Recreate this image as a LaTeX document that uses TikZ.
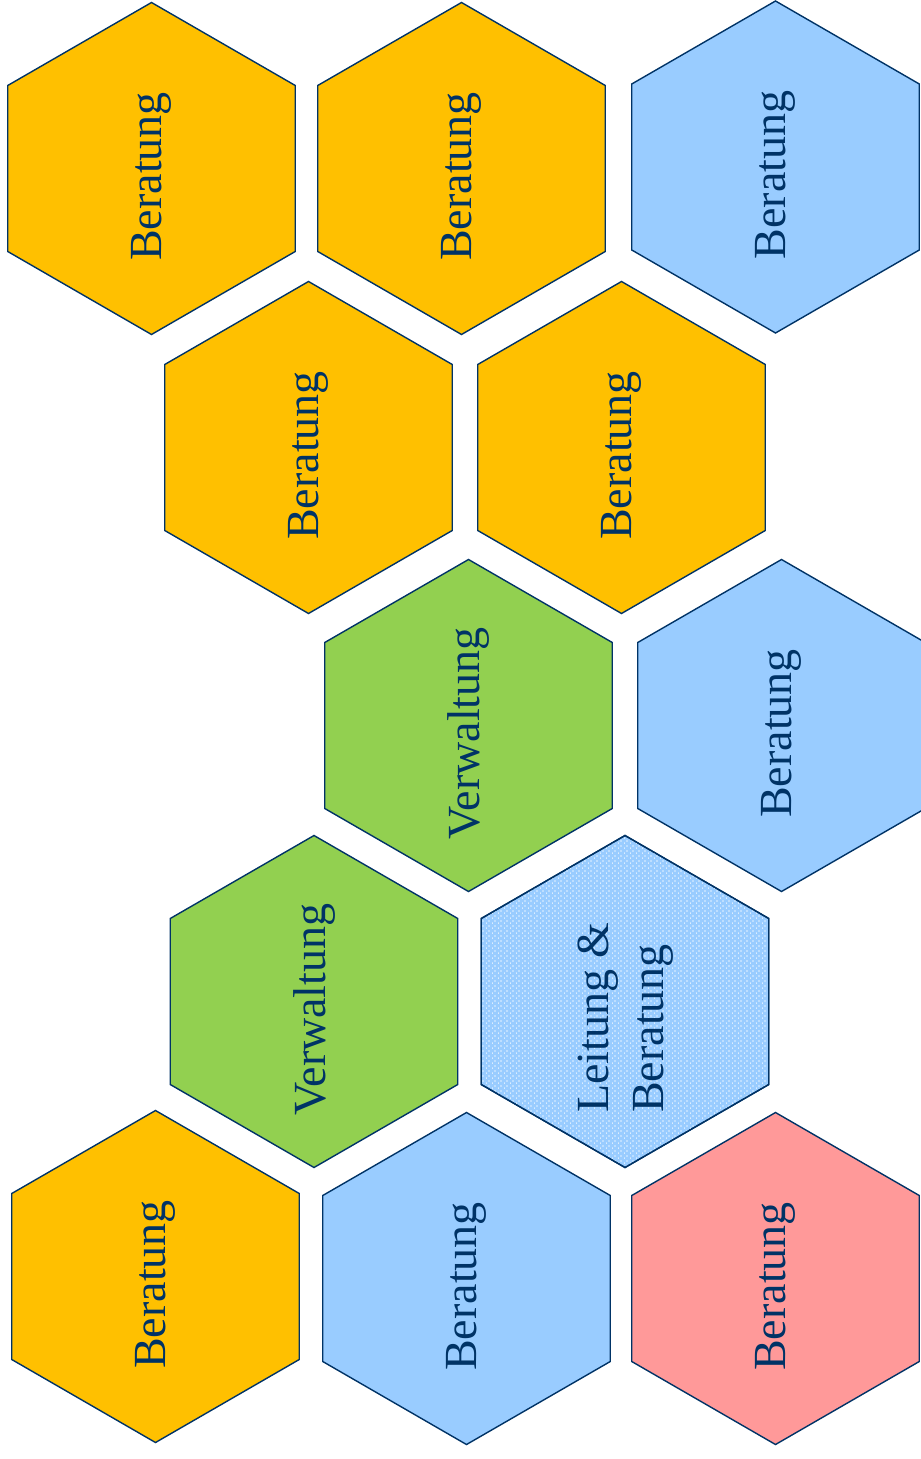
\documentclass[tikz,border=0pt]{standalone}
\usepackage{fontspec}
\setmainfont{Liberation Serif}
\usetikzlibrary{shapes.geometric,patterns}

\definecolor{navy}{RGB}{0,51,102}
\definecolor{gold}{RGB}{255,192,0}
\definecolor{sky}{RGB}{153,204,255}
\definecolor{leaf}{RGB}{146,208,80}
\definecolor{rose}{RGB}{255,153,153}

\pgfdeclarepatternformonly{vdashes}{\pgfpointorigin}{\pgfpoint{3pt}{2.5pt}}{\pgfpoint{3pt}{2.5pt}}{
  \pgfpathrectangle{\pgfpoint{0pt}{0pt}}{\pgfpoint{0.4pt}{1pt}}
  \pgfpathrectangle{\pgfpoint{1.5pt}{1.25pt}}{\pgfpoint{0.4pt}{1pt}}
  \pgfusepath{fill}}

% text of a cell, kept from widening the hexagon
\newcommand{\celltext}[1]{\makebox[0pt]{\hspace*{-8pt}#1}}

\begin{document}
\begin{tikzpicture}[
			x=0.5pt, y=-0.5pt,
			hexcell/.style={regular polygon, regular polygon sides=6, rotate=90,
				minimum size=166pt, inner sep=0pt, outer sep=0pt,
				draw=navy, line width=0.7pt, text=navy,
				font=\fontsize{23pt}{27.6pt}\selectfont},
			dotted cell/.style={hexcell, fill=sky,
				postaction={pattern=vdashes, pattern color=white},
				postaction={draw=navy, line width=0.7pt}}
	]
		\useasboundingbox (0,0) rectangle (920,1459);

		% top row
		\node (ber1) [hexcell, fill=gold] at (151.5,168.5) {\celltext{Beratung}};
		\node (ber2) [hexcell, fill=gold] at (461.5,168.5) {\celltext{Beratung}};
		\node (ber3) [hexcell, fill=sky] at (775.5,167) {\celltext{Beratung}};

		\node (ber4) [hexcell, fill=gold] at (308.5,447.5) {\celltext{Beratung}};
		\node (ber5) [hexcell, fill=gold] at (621.5,447.5) {\celltext{Beratung}};

		\node (verw1) [hexcell, fill=leaf] at (468.5,725.5) {\celltext{Verwaltung}};
		\node (ber6) [hexcell, fill=sky] at (781.5,725.5) {\celltext{Beratung}};

		\node (verw2) [hexcell, fill=leaf] at (314,1001.5) {\celltext{Verwaltung}};
		\node (leit) [dotted cell] at (625,1001.5)
			{\celltext{\hspace*{-8pt}\begin{tabular}{@{}l@{}}Leitung \&\\Beratung\end{tabular}}};

		% bottom row
		\node (ber7) [hexcell, fill=gold] at (155.5,1276.5) {\celltext{Beratung}};
		\node (ber8) [hexcell, fill=sky] at (466.5,1278.5) {\celltext{Beratung}};
		\node (ber9) [hexcell, fill=rose] at (775.5,1278.5) {\celltext{Beratung}};
	\end{tikzpicture}
\end{document}
